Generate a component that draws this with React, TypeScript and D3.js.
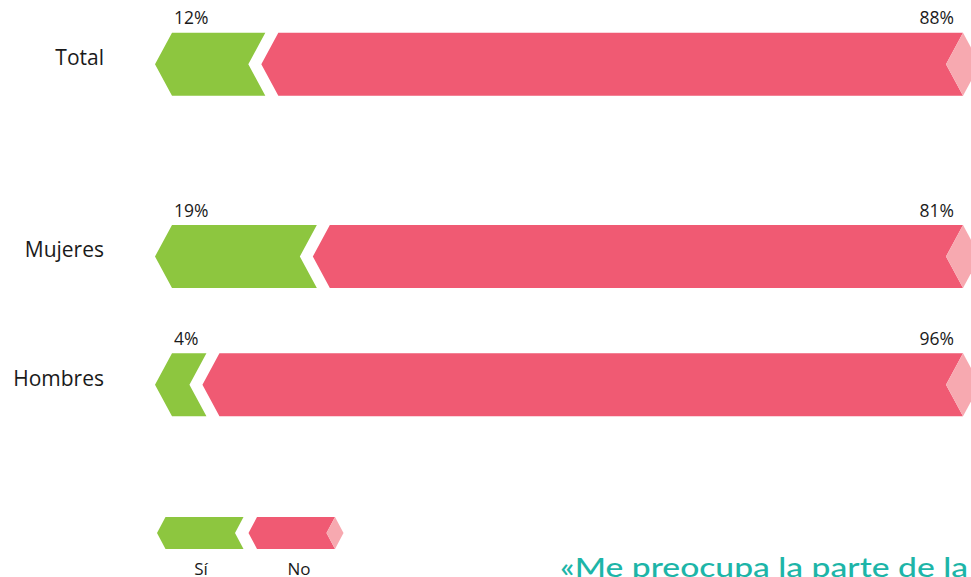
import React from "react";
import * as d3 from "d3";

const categories = ["Total", "Mujeres", "Hombres"];
const siValues = [12, 19, 4];
const noValues = [88, 81, 96];
const legendLabels = ["Sí", "No"];
const quoteText = "«Me preocupa la parte de la";

const W = 971;
const H = 577;
const GREEN = "#8DC63F";
const RED = "#F05A73";
const PINK = "#F7A9B0";
const TEAL = "#1DB5A8";
const FONT = "'Open Sans', 'Noto Sans', sans-serif";

function chevron(xTip: number, xEnd: number, cy: number, h: number, d: number) {
  const t = cy - h / 2;
  const b = cy + h / 2;
  return [
    [xTip, cy],
    [xTip + d, t],
    [xEnd, t],
    [xEnd - d, cy],
    [xEnd, b],
    [xTip + d, b],
  ]
    .map((p) => p.join(","))
    .join(" ");
}

function diamond(xEnd: number, cy: number, h: number, d: number) {
  return [
    [xEnd - d, cy],
    [xEnd, cy - h / 2],
    [xEnd + d, cy],
    [xEnd, cy + h / 2],
  ]
    .map((p) => p.join(","))
    .join(" ");
}

export default function App() {
  const tipX = 155;
  const barH = 63;
  const dep = 17;
  const gap = 13;
  const redEnd = 963;
  const rowSlots = [0, 1.5, 2.5];

  const x = d3.scaleLinear().domain([0, 100]).range([183.5, 919.5]);
  const y = d3.scaleLinear().domain([0, 2.5]).range([64.2, 384.7]);

  // legend
  const lgH = 32;
  const lgD = 8.5;
  const lgCy = 533;
  const lgW = 86.5;
  const lgGreenTip = 157;
  const lgRedTip = lgGreenTip + lgW + gap - lgD + 0.5;

  return (
    <svg
      width={W}
      height={H}
      style={{ position: "absolute", left: 0, top: 0, background: "#fff" }}
    >
      {categories.map((cat, i) => {
        const cy = y(rowSlots[i]);
        const boundary = x(siValues[i]);
        const greenEnd = boundary - gap / 2;
        const redTip = boundary + gap / 2 - dep;
        const top = cy - barH / 2;
        return (
          <g key={cat}>
            <text
              x={104}
              y={cy + 0.8}
              textAnchor="end"
              fontFamily={FONT}
              fontSize={21}
              fill="#1a1a1a"
            >
              {cat}
            </text>
            <polygon points={chevron(tipX, greenEnd, cy, barH, dep)} fill={GREEN} />
            <polygon points={chevron(redTip, redEnd, cy, barH, dep)} fill={RED} />
            <polygon points={diamond(redEnd, cy, barH, dep)} fill={PINK} />
            <text
              x={174}
              y={top - 8.5}
              fontFamily={FONT}
              fontSize={17.5}
              fill="#1a1a1a"
            >
              {siValues[i]}%
            </text>
            <text
              x={954}
              y={top - 8.5}
              textAnchor="end"
              fontFamily={FONT}
              fontSize={17.5}
              fill="#1a1a1a"
            >
              {noValues[i]}%
            </text>
          </g>
        );
      })}

      {/* legend */}
      <polygon
        points={chevron(lgGreenTip, lgGreenTip + lgW, lgCy, lgH, lgD)}
        fill={GREEN}
      />
      <polygon
        points={chevron(lgRedTip, lgRedTip + lgW, lgCy, lgH, lgD)}
        fill={RED}
      />
      <polygon points={diamond(lgRedTip + lgW, lgCy, lgH, lgD)} fill={PINK} />
      <text
        x={201}
        y={575}
        textAnchor="middle"
        fontFamily={FONT}
        fontSize={17}
        fill="#1a1a1a"
      >
        {legendLabels[0]}
      </text>
      <text
        x={299}
        y={575}
        textAnchor="middle"
        fontFamily={FONT}
        fontSize={17}
        fill="#1a1a1a"
      >
        {legendLabels[1]}
      </text>

      <text
        x={560}
        y={576.5}
        fontFamily="Lato, 'Open Sans', sans-serif"
        fontSize={27}
        fontWeight={500}
        fill={TEAL}
        textLength={408}
        lengthAdjust="spacingAndGlyphs"
      >
        {quoteText}
      </text>
    </svg>
  );
}
